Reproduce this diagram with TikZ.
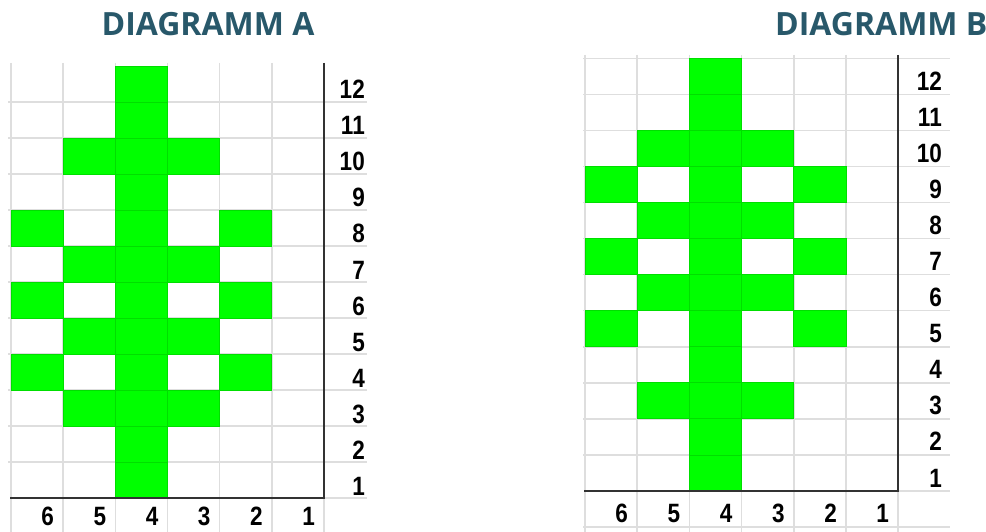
\documentclass[tikz,border=0pt]{standalone}
\usepackage{fontspec}
\newfontfamily\titlefont{Open Sans}
\newfontfamily\labfont{Liberation Sans}[FakeStretch=0.85]
\definecolor{titlecol}{RGB}{40,88,106}
\definecolor{gridgray}{RGB}{222,222,222}
\definecolor{cellgreen}{RGB}{0,255,0}
\definecolor{celledge}{RGB}{0,222,0}
\definecolor{axisgray}{RGB}{50,50,50}
\begin{document}
\begin{tikzpicture}[x=1pt,y=-1pt,
  gridline/.style={draw=gridgray,line width=1.5pt},
  axisline/.style={draw=axisgray,line width=2pt},
  cellbox/.style={fill=cellgreen,draw=celledge,line width=0.8pt},
  titletext/.style={font=\titlefont\bfseries\fontsize{32}{32}\selectfont,text=titlecol,inner sep=0pt},
  numtext/.style={font=\labfont\bfseries\fontsize{26.5}{26.5}\selectfont,text=black,inner sep=0pt}]
\useasboundingbox (0,0) rectangle (986,532);
% ---------------- Diagram A ----------------
\def\ax{11}\def\aw{52.17}\def\ab{498}\def\ah{36}
\foreach \k in {0,...,6} \draw[gridline] ({\ax+\k*\aw},63) -- ({\ax+\k*\aw},532);
\foreach \k in {1,...,11} \draw[gridline] (8,{\ab-\k*\ah}) -- (367,{\ab-\k*\ah});
\draw[gridline] (324,\ab) -- (367,\ab);
\foreach \r/\c in {12/4,11/4,10/5,10/4,10/3,9/4,8/6,8/4,8/2,7/5,7/4,7/3,6/6,6/4,6/2,5/5,5/4,5/3,4/6,4/4,4/2,3/5,3/4,3/3,2/4,1/4}
  \draw[cellbox] ({\ax+(6-\c)*\aw},{\ab-\r*\ah}) rectangle ({\ax+(7-\c)*\aw},{\ab-(\r-1)*\ah});
\draw[axisline] (324,63) -- (324,\ab) -- (10,\ab);
\foreach \r in {1,...,12}
  \node[numtext,anchor=base east] (la\r) at (365,{\ab-(\r-1)*\ah-3}) {\r};
\foreach \c in {1,...,6}
  \node[numtext,anchor=base east] (ba\c) at ({\ax+(7-\c)*\aw-9},525.5) {\c};
\node[titletext,anchor=base] (ta) at (208,36) {DIAGRAMM A};
% ---------------- Diagram B ----------------
\def\bx{585}\def\bw{52.2}\def\bb{491}\def\bh{36.06}
\foreach \k in {0,...,6} \draw[gridline] ({\bx+\k*\bw},55) -- ({\bx+\k*\bw},532);
\foreach \k in {1,...,12} \draw[gridline] (583,{\bb-\k*\bh}) -- (950,{\bb-\k*\bh});
\draw[gridline] (898,\bb) -- (950,\bb);
\draw[gridline] (583,527) -- (950,527);
\foreach \r/\c in {12/4,11/4,10/5,10/4,10/3,9/6,9/4,9/2,8/5,8/4,8/3,7/6,7/4,7/2,6/5,6/4,6/3,5/6,5/4,5/2,4/4,3/5,3/4,3/3,2/4,1/4}
  \draw[cellbox] ({\bx+(6-\c)*\bw},{\bb-\r*\bh}) rectangle ({\bx+(7-\c)*\bw},{\bb-(\r-1)*\bh});
\draw[axisline] (898,55) -- (898,\bb) -- (584,\bb);
\foreach \r in {1,...,12}
  \node[numtext,anchor=base east] (lb\r) at (942,{\bb-(\r-1)*\bh-4}) {\r};
\foreach \c in {1,...,6}
  \node[numtext,anchor=base east] (bb\c) at ({\bx+(7-\c)*\bw-9},522) {\c};
\node[titletext,anchor=base west] (tb) at (775,36) {DIAGRAMM B};
\end{tikzpicture}
\end{document}
